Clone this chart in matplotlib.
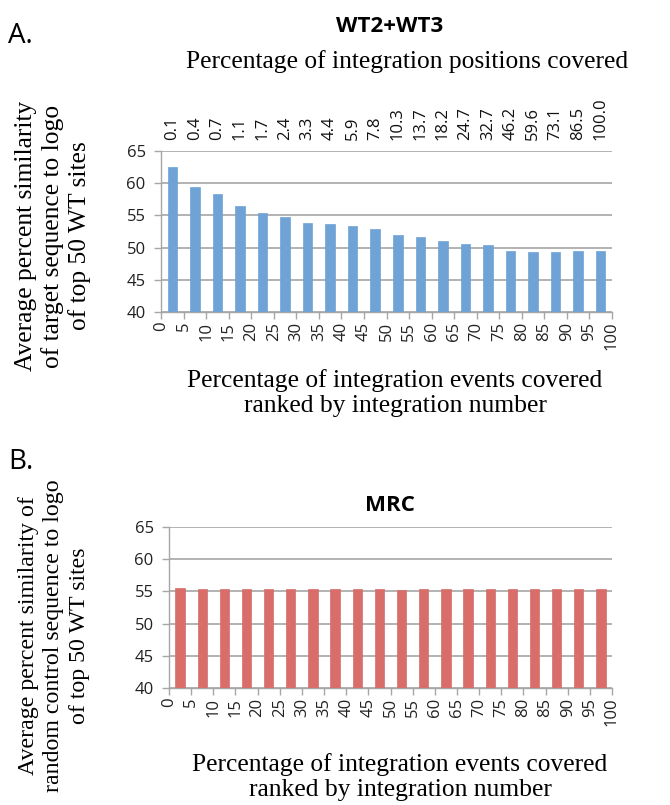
import matplotlib
matplotlib.use("Agg")
import matplotlib.pyplot as plt
import numpy as np

# ---- data ----
event_pct_labels = [0, 5, 10, 15, 20, 25, 30, 35, 40, 45, 50, 55, 60, 65, 70, 75, 80, 85, 90, 95, 100]
position_pct_labels = ["0.1", "0.4", "0.7", "1.1", "1.7", "2.4", "3.3", "4.4", "5.9", "7.8",
                       "10.3", "13.7", "18.2", "24.7", "32.7", "46.2", "59.6", "73.1", "86.5", "100.0"]
wt_values = [62.5, 59.4, 58.3, 56.4, 55.3, 54.7, 53.8, 53.6, 53.3, 52.9,
             52.0, 51.7, 51.0, 50.5, 50.4, 49.4, 49.3, 49.3, 49.5, 49.4]
mrc_values = [55.5, 55.3, 55.45, 55.3, 55.35, 55.45, 55.35, 55.3, 55.35, 55.35,
              55.2, 55.35, 55.35, 55.3, 55.3, 55.45, 55.35, 55.3, 55.3, 55.35]
y_ticks = [40, 45, 50, 55, 60, 65]

W, H = 670, 805
fig = plt.figure(figsize=(W / 100, H / 100), dpi=100)

SANS = ["Open Sans", "DejaVu Sans"]
SERIF = ["Liberation Serif", "DejaVu Serif"]
GRID = "#A6A6A6"
TICK_FS = 12
SERIF_FS = 18.4


def fx(x):
    return x / W


def fy(y):
    return 1 - y / H


def make_axes(left, right, top, bottom):
    return fig.add_axes([fx(left), fy(bottom), fx(right) - fx(left), fy(top) - fy(bottom)])


def style_axes(ax, values, color):
    n = len(values)
    centers = np.arange(n) + 0.5
    ax.bar(centers, [v - 40 for v in values], bottom=40, width=0.42, color=color,
           edgecolor=color, linewidth=0.5, zorder=3)
    ax.set_xlim(0, n)
    ax.set_ylim(40, 65)
    ax.set_yticks(y_ticks)
    ax.set_yticklabels([str(t) for t in y_ticks], fontsize=TICK_FS, family=SANS)
    ax.set_xticks(np.arange(len(event_pct_labels)))
    ax.set_xticklabels([str(t) for t in event_pct_labels], rotation=90, fontsize=TICK_FS,
                       family=SANS, va="top", ha="center")
    ax.yaxis.grid(True, color=GRID, linewidth=1.2, zorder=0)
    ax.set_axisbelow(True)
    for s in ["top", "right"]:
        ax.spines[s].set_visible(False)
    for s in ["left", "bottom"]:
        ax.spines[s].set_color(GRID)
        ax.spines[s].set_linewidth(1.0)
    ax.tick_params(axis="both", colors=GRID, labelcolor="#222222", length=5, width=1.0)
    ax.tick_params(axis="x", pad=2)
    ax.tick_params(axis="y", pad=6)


# Panel A
axA = make_axes(161, 612, 151, 312)
style_axes(axA, wt_values, "#6FA3D6")
axT = axA.twiny()
axT.set_xlim(axA.get_xlim())
axT.set_xticks(np.arange(len(position_pct_labels)) + 0.5)
axT.set_xticklabels(position_pct_labels, rotation=90, fontsize=TICK_FS, family=SANS)
axT.tick_params(axis="x", length=0, pad=8, labelcolor="#111111")
for s in axT.spines.values():
    s.set_visible(False)

# Panel B
axB = make_axes(169, 612, 527, 688)
style_axes(axB, mrc_values, "#D96D69")

# Texts
fig.text(fx(8), fy(36), "A.", fontsize=20, family=SANS, va="center", ha="left")
fig.text(fx(390), fy(26), "WT2+WT3", fontsize=16, family=SANS, weight="bold", va="center", ha="center")
fig.text(fx(407), fy(62), "Percentage of integration positions covered", fontsize=SERIF_FS,
         family=SERIF, va="center", ha="center")
fig.text(fx(395), fy(393), "Percentage of integration events covered\nranked by integration number",
         fontsize=SERIF_FS, family=SERIF, va="center", ha="center", linespacing=1.2)
fig.text(fx(53), fy(236), "Average percent similarity\nof target sequence to logo\nof top 50 WT sites",
         fontsize=SERIF_FS, family=SERIF, va="center", ha="center", rotation=90, multialignment="center",
         linespacing=1.2)

fig.text(fx(8), fy(462), "B.", fontsize=20, family=SANS, va="center", ha="left")
fig.text(fx(390), fy(505), "MRC", fontsize=16, family=SANS, weight="bold", va="center", ha="center")
fig.text(fx(400), fy(777), "Percentage of integration events covered\nranked by integration number",
         fontsize=SERIF_FS, family=SERIF, va="center", ha="center", linespacing=1.2)
fig.text(fx(54), fy(636), "Average percent similarity of\nrandom control sequence to logo\nof top 50 WT sites",
         fontsize=17.2, family=SERIF, va="center", ha="center", rotation=90, multialignment="center",
         linespacing=1.28)

fig.savefig("out.png", dpi=100, facecolor="white")
